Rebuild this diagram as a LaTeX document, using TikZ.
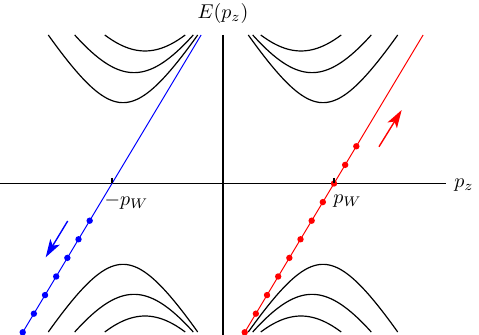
\documentclass[tikz,border=0pt]{standalone}
\usetikzlibrary{arrows.meta}
\begin{document}
\begin{tikzpicture}[x=0.5pt,y=-0.5pt,
  axis/.style={line width=0.7pt},
  level/.style={line width=0.6pt},
  chiral/.style={line width=0.5pt},
  flow/.style={line width=0.7pt,-{Stealth[length=9pt,width=5.5pt,inset=2.2pt]}},
  ticmark/.style={line width=0.6pt}]
\useasboundingbox (0,0) rectangle (479,335);
% axes
\coordinate (xl) at (0,183.5);
\coordinate (xr) at (446,183.5);
\coordinate (yt) at (223,35);
\coordinate (yb) at (223,335);
\draw[axis] (xl) -- (xr);
\draw[axis] (yt) -- (yb);
\node (Elabel) at (223,14) {$E(p_z)$};
\node (pzlabel) at (464,185) {$p_z$};
% Landau levels
\foreach \c/\m/\w in {-11/48.5/74.7, -22/66.5/59.3, -33/79.5/40.2}{
  \foreach \sx/\sy in {1/1,1/-1,-1/1,-1/-1}{
    \draw[level] plot[domain={\c-\w}:{\c+\w}, samples=60, smooth]
      ({223+\sx*(111+\x)}, {183.5-\sy*1.667*sqrt(\m*\m+(\x-(\c))*(\x-(\c)))});
  }
}
% chiral branches
\coordinate (mW) at (112,183.5);
\coordinate (pW) at (334,183.5);
\coordinate (btop) at (201.1,35);
\coordinate (bbot) at (21.1,335);
\coordinate (rtop) at (423.1,35);
\coordinate (rbot) at (243.1,335);
\draw[chiral,blue] (bbot) -- (btop);
\draw[chiral,red] (rbot) -- (rtop);
\foreach \k in {2,...,8}
  \fill[blue] ({112-0.6*18.6*\k},{183.5+18.6*\k}) circle[radius=3.2];
\foreach \k in {-2,-1,0,1,2,3,4,5,6,7,8}
  \fill[red] ({334-0.6*18.6*\k},{183.5+18.6*\k}) circle[radius=3.2];
% ticks
\draw[ticmark] (112,178) -- (mW);
\draw[ticmark] (334,178) -- (pW);
\node (mWlabel) at (126.5,201.5) {$-p_W$};
\node (pWlabel) at (347.5,201.5) {$p_W$};
% flow arrows
\coordinate (ba1) at (67.7,221);
\coordinate (ba2) at (45.7,257.3);
\coordinate (ra1) at (379,146.7);
\coordinate (ra2) at (401.7,110);
\draw[flow,blue] (ba1) -- (ba2);
\draw[flow,red] (ra1) -- (ra2);
\end{tikzpicture}
\end{document}
